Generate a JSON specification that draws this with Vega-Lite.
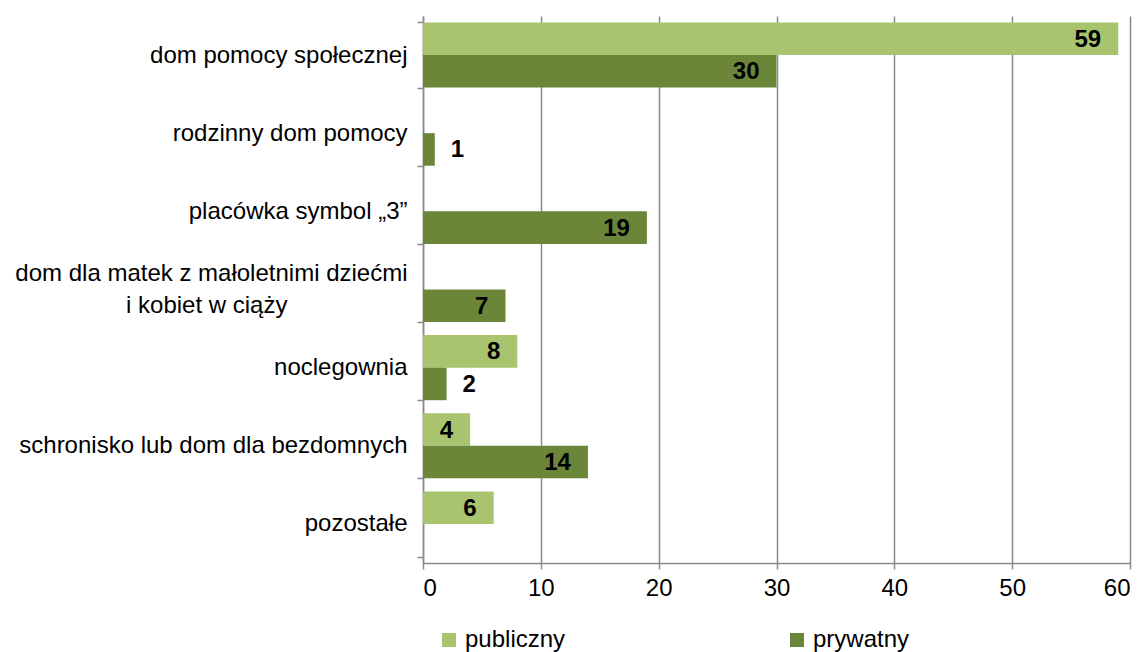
{
  "$schema": "https://vega.github.io/schema/vega-lite/v6.json",
  "width": 707,
  "height": 547,
  "autosize": {"type": "none"},
  "padding": {"left": 423, "top": 16, "right": 15, "bottom": 89},
  "background": "white",
  "config": {
    "view": {"stroke": null},
    "font": "Liberation Sans"
  },
  "data": {
    "values": [
      {"kategoria": "dom pomocy społecznej", "typ": "publiczny", "liczba": 59},
      {"kategoria": "dom pomocy społecznej", "typ": "prywatny", "liczba": 30},
      {"kategoria": "rodzinny dom pomocy", "typ": "prywatny", "liczba": 1},
      {"kategoria": "placówka symbol „3”", "typ": "prywatny", "liczba": 19},
      {"kategoria": "dom dla matek", "typ": "prywatny", "liczba": 7},
      {"kategoria": "noclegownia", "typ": "publiczny", "liczba": 8},
      {"kategoria": "noclegownia", "typ": "prywatny", "liczba": 2},
      {"kategoria": "schronisko lub dom dla bezdomnych", "typ": "publiczny", "liczba": 4},
      {"kategoria": "schronisko lub dom dla bezdomnych", "typ": "prywatny", "liczba": 14},
      {"kategoria": "pozostałe", "typ": "publiczny", "liczba": 6}
    ]
  },
  "encoding": {
    "y": {
      "field": "kategoria",
      "type": "nominal",
      "sort": ["dom pomocy społecznej", "rodzinny dom pomocy", "placówka symbol „3”", "dom dla matek", "noclegownia", "schronisko lub dom dla bezdomnych", "pozostałe"],
      "scale": {"paddingInner": 0.167, "paddingOuter": 0.083},
      "axis": {
        "title": null,
        "grid": false,
        "domainColor": "#8a8a8a",
        "domainWidth": 1.5,
        "tickColor": "#8a8a8a",
        "tickWidth": 1.5,
        "tickSize": 6,
        "tickBand": "extent",
        "labelPadding": 10,
        "labelFontSize": 24,
        "labelColor": "#000000",
        "labelLimit": 0,
        "labelLineHeight": 32,
        "labelOffset": {"condition": {"test": "datum.value == 'dom dla matek'", "value": -16}, "value": 0},
        "labelExpr": "datum.value == 'dom dla matek' ? ['dom dla matek z małoletnimi dziećmi', 'i kobiet w ciąży\u00a0\u00a0\u00a0\u00a0\u00a0\u00a0\u00a0\u00a0\u00a0\u00a0\u00a0\u00a0\u00a0\u00a0\u00a0\u00a0\u00a0\u00a0\u200b'] : datum.label"
      }
    },
    "yOffset": {
      "field": "typ",
      "type": "nominal",
      "sort": ["publiczny", "prywatny"],
      "scale": {"domain": ["publiczny", "prywatny"], "paddingInner": 0, "paddingOuter": 0}
    },
    "x": {
      "field": "liczba",
      "type": "quantitative",
      "scale": {"domain": [0, 60], "nice": false},
      "axis": {
        "title": null,
        "values": [0, 10, 20, 30, 40, 50, 60],
        "grid": true,
        "gridColor": "#8a8a8a",
        "gridWidth": 1.5,
        "domainColor": "#8a8a8a",
        "domainWidth": 1.5,
        "tickColor": "#8a8a8a",
        "tickWidth": 1.5,
        "tickSize": 6,
        "labelPadding": 7,
        "labelFontSize": 24,
        "labelColor": "#000000"
      }
    }
  },
  "layer": [
    {
      "mark": {"type": "bar"},
      "encoding": {
        "color": {
          "field": "typ",
          "type": "nominal",
          "scale": {"domain": ["publiczny", "prywatny"], "range": ["#a9c46f", "#6b8639"]},
          "legend": {
            "orient": "none",
            "legendX": 14,
            "legendY": 612,
            "direction": "horizontal",
            "title": null,
            "symbolType": "square",
            "symbolSize": 196,
            "symbolStrokeWidth": 0,
            "labelFontSize": 24,
            "labelColor": "#000000",
            "labelOffset": 4,
            "columnPadding": 219
          }
        }
      }
    },
    {
      "transform": [{"filter": "datum.liczba >= 4"}],
      "mark": {"type": "text", "align": "right", "baseline": "middle", "dx": -17, "dy": 1, "fontWeight": "bold", "fontSize": 24, "color": "#000000"},
      "encoding": {"text": {"field": "liczba", "type": "quantitative"}}
    },
    {
      "transform": [{"filter": "datum.liczba < 4"}],
      "mark": {"type": "text", "align": "left", "baseline": "middle", "dx": 16, "dy": 1, "fontWeight": "bold", "fontSize": 24, "color": "#000000"},
      "encoding": {"text": {"field": "liczba", "type": "quantitative"}}
    }
  ]
}
